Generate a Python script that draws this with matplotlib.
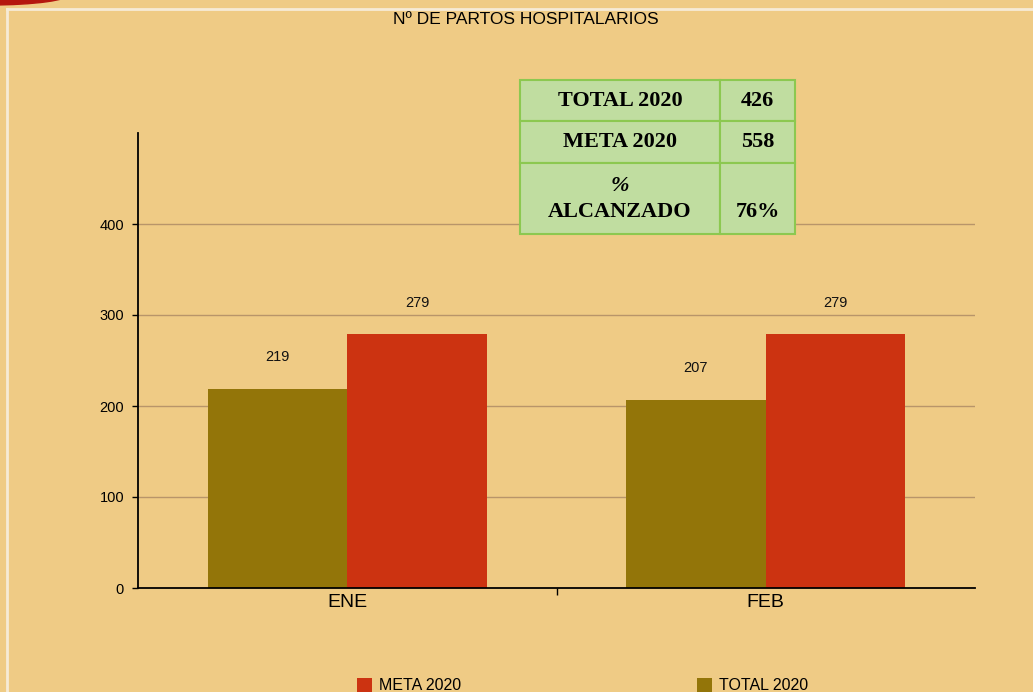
import matplotlib
matplotlib.use("Agg")
import matplotlib.pyplot as plt
from matplotlib.patches import Rectangle, Ellipse
import numpy as np

categories = ["ENE", "FEB"]
total_2020 = [219, 207]
meta_2020 = [279, 279]
yticks = [0, 100, 200, 300, 400]
table_rows = [["TOTAL 2020", "426"], ["META 2020", "558"], ["%\nALCANZADO", "76%"]]

BG = "#EFCB85"
OLIVE = "#937509"
RED = "#CC3311"
GRID = "#B8956A"

W, H = 1033, 692
fig = plt.figure(figsize=(W / 100, H / 100), dpi=100, facecolor=BG)

def fx(px):
    return px / W

def fy(py):
    return 1 - py / H

# decoration: white frame and red swoosh
fig.add_artist(plt.Line2D([fx(7), fx(1040)], [fy(9), fy(9)], color="#F6EBD6", lw=2))
fig.add_artist(plt.Line2D([fx(7), fx(7)], [fy(9), fy(700)], color="#F6EBD6", lw=2))
fig.add_artist(Ellipse((fx(-10), fy(-6)), fx(160), 22 / H, color="#B5170F",
                       transform=fig.transFigure))

ax = fig.add_axes([fx(138), fy(588), fx(975) - fx(138), fy(133) - fy(588)])
ax.set_facecolor(BG)
x = np.arange(len(categories))
bw = 1 / 3
b1 = ax.bar(x - bw / 2, total_2020, bw, color=OLIVE, zorder=3, label="TOTAL 2020")
b2 = ax.bar(x + bw / 2, meta_2020, bw, color=RED, zorder=3, label="META 2020")
for rect, v in list(zip(b1, total_2020)) + list(zip(b2, meta_2020)):
    ax.text(rect.get_x() + rect.get_width() / 2, v + 27, str(v), ha="center",
            va="bottom", fontsize=10.5, family="Liberation Sans", color="#111111")

ax.set_xlim(-0.5, len(categories) - 0.5)
ax.set_ylim(0, 500)
ax.set_yticks(yticks)
ax.set_yticklabels([str(t) for t in yticks], fontsize=10.5, family="Liberation Sans")
for t in yticks[1:]:
    ax.axhline(t, color=GRID, lw=1, zorder=1)
ax.set_xticks(x)
ax.set_xticklabels(categories, fontsize=14, family="Liberation Sans")
ax.tick_params(axis="x", length=0, pad=4)
ax.set_xticks([0.5], minor=True)
ax.tick_params(axis="x", which="minor", length=5, width=1, direction="out")
ax.tick_params(axis="y", length=4, width=1, direction="out", pad=6)
for s in ["top", "right"]:
    ax.spines[s].set_visible(False)
ax.spines["left"].set_linewidth(1.3)
ax.spines["bottom"].set_linewidth(1.3)
ax.spines["left"].set_zorder(4)
ax.spines["bottom"].set_zorder(4)

fig.text(fx(526), fy(20), "Nº DE PARTOS HOSPITALARIOS", ha="center", va="center",
         fontsize=12.5, family="Liberation Sans")

# summary table
col_x = [520, 720, 795]
row_y = [80, 121, 163, 234]
TFS = 16
for i, row in enumerate(table_rows):
    for j, txt in enumerate(row):
        x0, x1 = col_x[j], col_x[j + 1]
        y0, y1 = row_y[i], row_y[i + 1]
        fig.add_artist(Rectangle((fx(x0), fy(y1)), fx(x1) - fx(x0), fy(y0) - fy(y1),
                                 facecolor="#C0DDA0", edgecolor="#8CC850", lw=1.5,
                                 transform=fig.transFigure, zorder=5))
        if i == 2:
            if j == 0:
                fig.text(fx((x0 + x1) / 2), fy(186), "%", ha="center", va="center",
                         fontsize=TFS, family="Liberation Serif", weight="bold",
                         style="italic", zorder=6)
                fig.text(fx((x0 + x1) / 2), fy(212), "ALCANZADO", ha="center", va="center",
                         fontsize=TFS, family="Liberation Serif", weight="bold", zorder=6)
            else:
                fig.text(fx((x0 + x1) / 2), fy(212), txt, ha="center", va="center",
                         fontsize=TFS, family="Liberation Serif", weight="bold", zorder=6)
        else:
            fig.text(fx((x0 + x1) / 2), fy((y0 + y1) / 2), txt, ha="center", va="center",
                     fontsize=TFS, family="Liberation Serif", weight="bold", zorder=6)

# legend (cut at bottom edge like reference)
for (sx, label, col) in [(357, "META 2020", RED), (697, "TOTAL 2020", OLIVE)]:
    fig.add_artist(Rectangle((fx(sx), fy(692)), fx(15), 14 / H, facecolor=col,
                             edgecolor="none", transform=fig.transFigure))
    fig.text(fx(sx + 22), fy(685), label, ha="left", va="center", fontsize=11.5,
             family="Liberation Sans")

fig.savefig("out.png", dpi=100, facecolor=BG)
